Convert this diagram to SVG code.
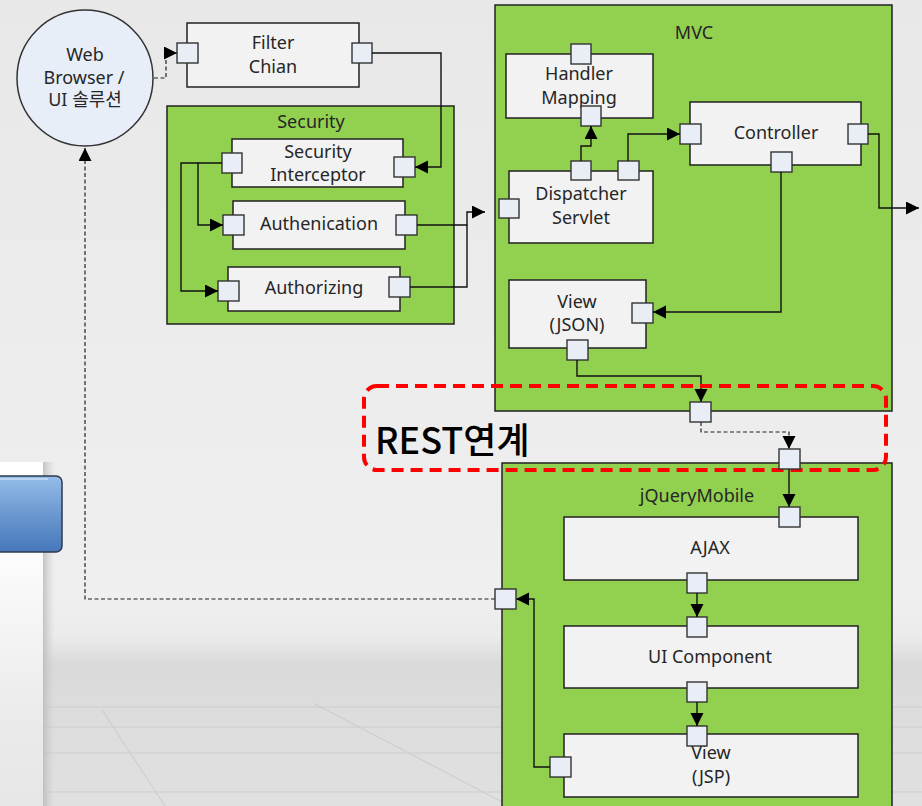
<svg xmlns="http://www.w3.org/2000/svg" width="922" height="806" viewBox="0 0 922 806">
<defs>
<linearGradient id="bg" x1="0" y1="0" x2="0" y2="1">
<stop offset="0" stop-color="#e8e8e8"/>
<stop offset="0.74" stop-color="#efefef"/>
<stop offset="0.79" stop-color="#ebebeb"/>
<stop offset="0.825" stop-color="#d9d9d9"/>
<stop offset="0.87" stop-color="#dcdcdc"/>
<stop offset="1" stop-color="#e0e0e0"/>
</linearGradient>
<linearGradient id="panel" x1="0" y1="0" x2="0" y2="1">
<stop offset="0" stop-color="#ffffff"/>
<stop offset="0.3" stop-color="#fbfbfb"/>
<stop offset="0.7" stop-color="#ececec"/>
<stop offset="1" stop-color="#e6e6e6"/>
</linearGradient>
<linearGradient id="shadow" x1="0" y1="0" x2="1" y2="0">
<stop offset="0" stop-color="#b8b8b8" stop-opacity="0.8"/>
<stop offset="1" stop-color="#d0d0d0" stop-opacity="0"/>
</linearGradient>
<linearGradient id="btn" x1="0" y1="0" x2="0" y2="1">
<stop offset="0" stop-color="#95bde8"/>
<stop offset="0.5" stop-color="#6b98d0"/>
<stop offset="1" stop-color="#4577ba"/>
</linearGradient>
<marker id="arr" markerUnits="userSpaceOnUse" markerWidth="14" markerHeight="14" refX="13" refY="6.5" orient="auto">
<path d="M0,0 L13,6.5 L0,13 z" fill="#000"/>
</marker>
<style>
.grp{fill:#92d050;stroke:#222;stroke-width:1.5}
.box{fill:#f2f2f2;stroke:#222;stroke-width:1.5}
.port{fill:#e8edf6;stroke:#333;stroke-width:1.4}
.t{font-family:"Noto Sans","Noto Sans CJK KR",sans-serif;font-size:18px;fill:#262626;text-anchor:middle}
.c{fill:none;stroke:#111;stroke-width:1.4}
.d{fill:none;stroke:#222;stroke-width:1.2;stroke-dasharray:4 2.5}
.a{marker-end:url(#arr)}
.floor{stroke:#cdcdcd;stroke-width:1.1;fill:none}
</style>
</defs>

<g id="background">
<rect x="0" y="0" width="922" height="806" fill="url(#bg)"/>
<path class="floor" d="M44,707 H922 M44,727 H922 M44,753 H922 M44,792 H922"/>
<path class="floor" d="M102,710 L165,806 M315,704 L510,806"/>
<rect x="0" y="462" width="43" height="344" fill="url(#panel)"/>
<rect x="43" y="462" width="12" height="344" fill="url(#shadow)"/>
<rect x="-6" y="476" width="68" height="76" rx="6" fill="url(#btn)" stroke="#2c3a4e" stroke-width="1.5"/>
<path d="M0,479 H48" stroke="#c8ddf4" stroke-width="1.5"/>
</g>

<g id="web-browser">
<circle cx="85" cy="78" r="68" fill="#e8eef8" stroke="#333" stroke-width="1.5"/>
<text class="t" x="85" y="61">Web</text>
<text class="t" x="84" y="84">Browser /</text>
<text class="t" x="85" y="106">UI 솔루션</text>
</g>

<g id="filter-chain">
<rect class="box" x="187" y="23" width="172" height="64"/>
<text class="t" x="273" y="49">Filter</text>
<text class="t" x="273" y="73">Chian</text>
<rect class="port" x="177" y="43" width="21" height="20"/>
<rect class="port" x="352" y="43" width="20" height="20"/>
</g>

<g id="security">
<rect class="grp" x="167" y="106" width="287" height="218"/>
<text class="t" x="311" y="128">Security</text>
</g>

<g id="security-interceptor">
<rect class="box" x="232" y="139" width="171" height="48"/>
<text class="t" x="318" y="158">Security</text>
<text class="t" x="318" y="181">Interceptor</text>
<rect class="port" x="222" y="153" width="20" height="20"/>
<rect class="port" x="394" y="157" width="21" height="20"/>
</g>

<g id="authenication">
<rect class="box" x="233" y="201" width="172" height="48"/>
<text class="t" x="319" y="230">Authenication</text>
<rect class="port" x="223" y="215" width="21" height="20"/>
<rect class="port" x="396" y="215" width="21" height="20"/>
</g>

<g id="authorizing">
<rect class="box" x="228" y="267" width="172" height="44"/>
<text class="t" x="314" y="294">Authorizing</text>
<rect class="port" x="218" y="281" width="21" height="20"/>
<rect class="port" x="389" y="277" width="21" height="20"/>
</g>

<g id="mvc">
<rect class="grp" x="495" y="5" width="397" height="406"/>
<text class="t" x="694" y="39">MVC</text>
</g>

<g id="handler-mapping">
<rect class="box" x="506" y="54" width="147" height="64"/>
<text class="t" x="579" y="80">Handler</text>
<text class="t" x="579" y="104">Mapping</text>
<rect class="port" x="571" y="44" width="20" height="20"/>
<rect class="port" x="581" y="106" width="20" height="20"/>
</g>

<g id="dispatcher-servlet">
<rect class="box" x="509" y="171" width="144" height="72"/>
<text class="t" x="581" y="200">Dispatcher</text>
<text class="t" x="581" y="224">Servlet</text>
<rect class="port" x="571" y="161" width="20" height="19"/>
<rect class="port" x="618" y="161" width="21" height="19"/>
<rect class="port" x="499" y="199" width="20" height="19"/>
</g>

<g id="controller">
<rect class="box" x="690" y="102" width="171" height="63"/>
<text class="t" x="776" y="139">Controller</text>
<rect class="port" x="680" y="124" width="21" height="20"/>
<rect class="port" x="848" y="124" width="20" height="20"/>
<rect class="port" x="771" y="152" width="21" height="20"/>
</g>

<g id="view-json">
<rect class="box" x="509" y="280" width="137" height="68"/>
<text class="t" x="577" y="308">View</text>
<text class="t" x="577" y="331">(JSON)</text>
<rect class="port" x="632" y="303" width="21" height="20"/>
<rect class="port" x="567" y="340" width="21" height="20"/>
</g>

<g id="jquery-mobile">
<rect class="grp" x="502" y="463" width="390" height="350"/>
<text class="t" x="697" y="502">jQueryMobile</text>
</g>

<g id="ajax">
<rect class="box" x="564" y="517" width="294" height="63"/>
<text class="t" x="710" y="554">AJAX</text>
<rect class="port" x="687" y="573" width="20" height="20"/>
</g>

<g id="ui-component">
<rect class="box" x="564" y="626" width="294" height="62"/>
<text class="t" x="710" y="663">UI Component</text>
<rect class="port" x="687" y="617" width="20" height="20"/>
<rect class="port" x="687" y="682" width="20" height="20"/>
</g>

<g id="view-jsp">
<rect class="box" x="564" y="734" width="294" height="63"/>
<text class="t" x="711" y="759">View</text>
<text class="t" x="711" y="783">(JSP)</text>
<rect class="port" x="687" y="726" width="20" height="20"/>
<rect class="port" x="550" y="757" width="21" height="20"/>
</g>

<g id="connectors">
<path class="d a" d="M154,78 H166 V53 H177"/>
<path class="c a" d="M372,53 H441 V167 H415"/>
<path class="c a" d="M222,163 H198 V225 H223"/>
<path class="c a" d="M198,163 H181 V291 H218"/>
<path class="c a" d="M417,225 H467 V212 H485"/>
<path class="c" d="M410,287 H467 V225"/>
<path class="c a" d="M581,161 V146 H591 V126"/>
<path class="c a" d="M628,161 V134 H680"/>
<path class="c a" d="M868,134 H879 V208 H919"/>
<path class="c a" d="M781,172 V312 H653"/>
<path class="c a" d="M577,360 V376 H701 V402"/>
<path class="d a" d="M701,422 V432 H789 V449"/>
<path class="c a" d="M789,469 V507"/>
<path class="c a" d="M697,593 V617"/>
<path class="c a" d="M697,702 V726"/>
<path class="c a" d="M550,767 H534 V599 H516"/>
<path class="d a" d="M495,599 H85 V148"/>
</g>

<g id="rest">
<rect x="364" y="386" width="522" height="84" rx="13" fill="none" stroke="#ff0000" stroke-width="4" stroke-dasharray="12 7"/>
<text x="375" y="454" font-family="'Noto Sans CJK KR',sans-serif" font-size="36" font-weight="500" fill="#000">REST연계</text>
</g>

<g id="ports-rest">
<rect class="port" x="690" y="402" width="21" height="20"/>
<rect class="port" x="779" y="449" width="21" height="20"/>
<rect class="port" x="779" y="507" width="21" height="20"/>
<rect class="port" x="495" y="589" width="21" height="20"/>
</g>
</svg>
